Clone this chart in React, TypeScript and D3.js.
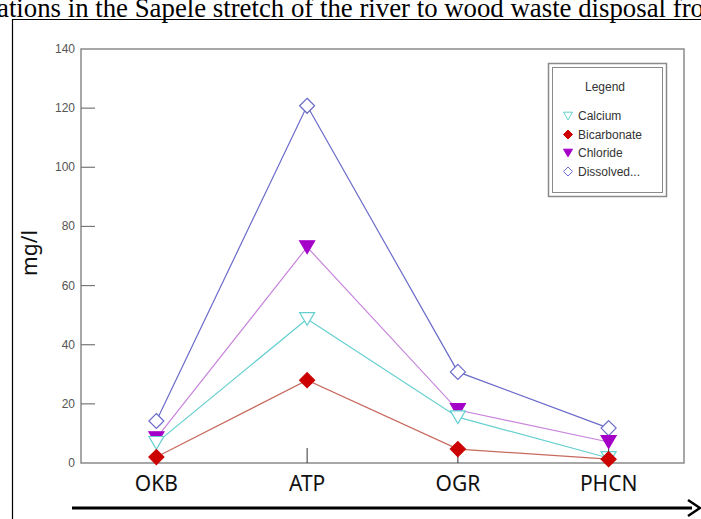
import React from "react";
import * as d3 from "d3";

const categories = ["OKB", "ATP", "OGR", "PHCN"];
const calcium = [6.8, 48.7, 15.5, 1.7];
const bicarbonate = [2, 28, 4.7, 1.3];
const chloride = [8.4, 73, 17.9, 7.1];
const dissolved = [14.2, 120.8, 30.8, 11.8];
const yTicks = [0, 20, 40, 60, 80, 100, 120, 140];
const legendLabels = ["Calcium", "Bicarbonate", "Chloride", "Dissolved..."];
const titleText = "ations in the Sapele stretch of the river to wood waste disposal fro";

type Series = {
  name: string;
  values: number[];
  line: string;
  fill: string;
  stroke: string;
  shape: "tri" | "diamond";
};

const series: Series[] = [
  { name: legendLabels[3], values: dissolved, line: "#6b6bc9", fill: "#ffffff", stroke: "#6b6bc9", shape: "diamond" },
  { name: legendLabels[2], values: chloride, line: "#c884dc", fill: "#a400c8", stroke: "#a400c8", shape: "tri" },
  { name: legendLabels[0], values: calcium, line: "#66cfcf", fill: "#ffffff", stroke: "#66cfcf", shape: "tri" },
  { name: legendLabels[1], values: bicarbonate, line: "#c76a5e", fill: "#cc0000", stroke: "#cc0000", shape: "diamond" },
];

const legendOrder = [2, 3, 1, 0];

function markerPath(shape: "tri" | "diamond", cx: number, cy: number, s: number) {
  if (shape === "tri") {
    const h = s * 0.85;
    return `M${cx - s / 2},${cy - h / 2}L${cx + s / 2},${cy - h / 2}L${cx},${cy + h / 2}Z`;
  }
  const r = s / 2;
  return `M${cx},${cy - r}L${cx + r},${cy}L${cx},${cy + r}L${cx - r},${cy}Z`;
}

export default function App() {
  const W = 701, H = 519;
  const left = 81, right = 684, top = 49, bottom = 463;
  const x = d3.scalePoint<string>().domain(categories).range([left, right]).padding(0.5);
  const y = d3.scaleLinear().domain([0, 140]).range([bottom, top]);
  const line = d3.line<number>().x((_, i) => x(categories[i])!).y((d) => y(d));

  return (
    <svg width={W} height={H} style={{ position: "absolute", left: 0, top: 0, background: "#fff" }}>
      <text x={-3} y={17} fontFamily="Liberation Serif" fontSize={26.8} fill="#000">
        {titleText}
      </text>
      <line x1={12.5} y1={19} x2={12.5} y2={H} stroke="#000" strokeWidth={1.2} />
      <line x1={12} y1={19.5} x2={W} y2={19.5} stroke="#000" strokeWidth={1.2} />

      <rect x={left} y={top} width={right - left} height={bottom - top} fill="none" stroke="#8a8a8a" strokeWidth={1.5} />
      {yTicks.map((t) => (
        <g key={t}>
          {t > 0 && t < 140 && <line x1={left} x2={left + 14} y1={y(t)} y2={y(t)} stroke="#777" strokeWidth={1.2} />}
          <text x={75} y={y(t) + 4} textAnchor="end" fontFamily="Liberation Sans" fontSize={12} fill="#555">
            {t}
          </text>
        </g>
      ))}
      {categories.map((c, i) => (
        <g key={c}>
          {i > 0 && <line x1={x(c)} x2={x(c)} y1={bottom} y2={bottom - 15} stroke="#333" strokeWidth={1} />}
          <text x={x(c)} y={491} textAnchor="middle" fontFamily="Noto Sans" fontSize={21} fill="#111">
            {c}
          </text>
        </g>
      ))}
      <text transform={`translate(37,253) rotate(-90)`} textAnchor="middle" fontFamily="Noto Sans" fontSize={21} fill="#111">
        mg/l
      </text>

      {series.map((s) => (
        <path key={s.name + "l"} d={line(s.values)!} fill="none" stroke={s.line} strokeWidth={1.2} />
      ))}
      {series.map((s) =>
        s.values.map((v, i) => (
          <path
            key={s.name + i}
            d={markerPath(s.shape, x(categories[i])!, y(v), 15)}
            fill={s.fill}
            stroke={s.stroke}
            strokeWidth={1.2}
          />
        ))
      )}

      <rect x={548.5} y={63.5} width={118} height={133} fill="#fff" stroke="#8a8a8a" strokeWidth={1.5} />
      <rect x={552.5} y={67.5} width={110} height={125} fill="none" stroke="#8a8a8a" strokeWidth={1} />
      <text x={605} y={91} textAnchor="middle" fontFamily="Liberation Sans" fontSize={12} fill="#333">
        Legend
      </text>
      {legendOrder.map((si, k) => {
        const s = series[si];
        const ly = 116 + k * 18.5;
        return (
          <g key={s.name}>
            <path d={markerPath(s.shape, 568, ly, 9)} fill={s.fill} stroke={s.stroke} strokeWidth={1} />
            <text x={578} y={ly + 4} fontFamily="Liberation Sans" fontSize={12} fill="#333">
              {s.name}
            </text>
          </g>
        );
      })}

      <line x1={72} x2={692} y1={508} y2={508} stroke="#000" strokeWidth={3} />
      <path d="M688,500 L700,508 L688,516" fill="none" stroke="#000" strokeWidth={2.5} />
    </svg>
  );
}
